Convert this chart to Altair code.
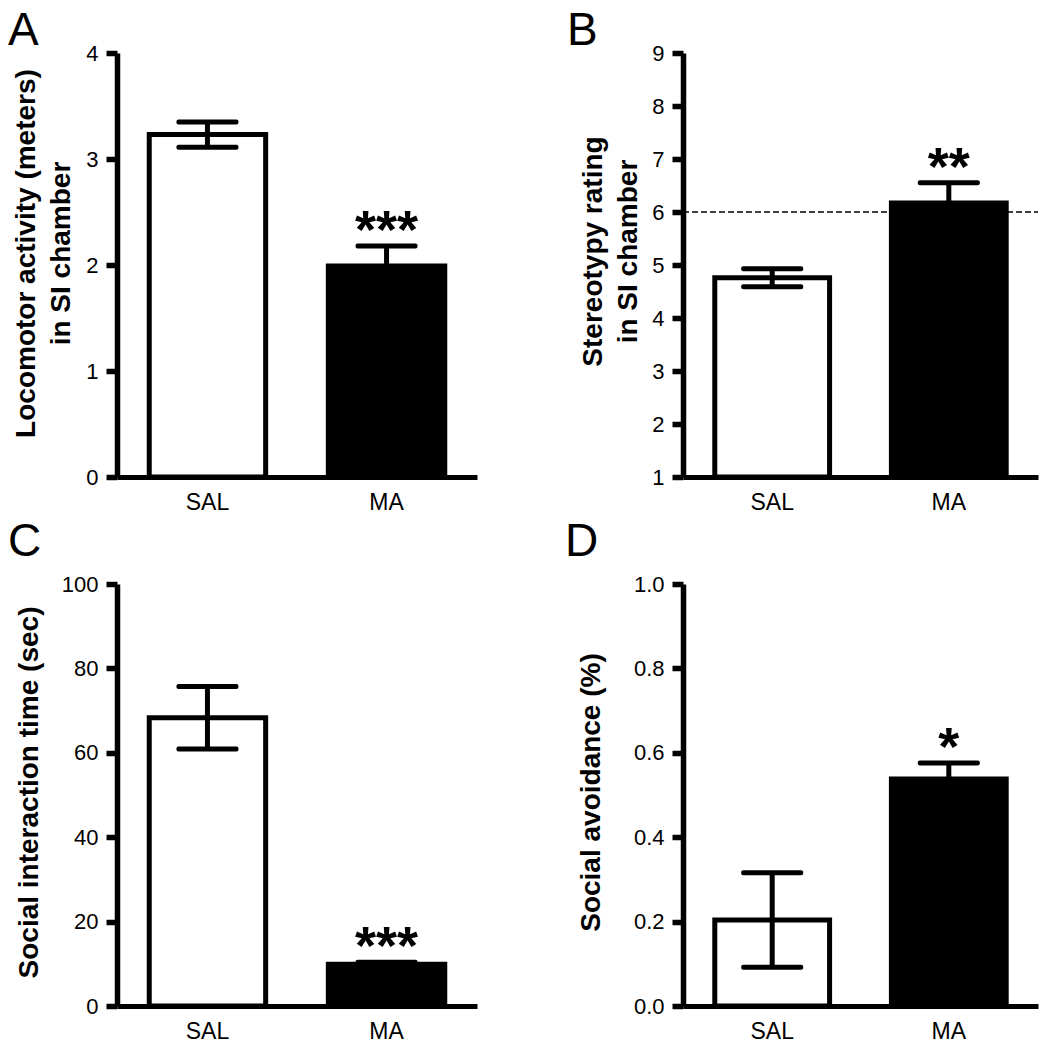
import altair as alt
import pandas as pd

groups = ["SAL", "MA"]
fills = ["white", "black"]

a_mean = [3.23, 1.99]
a_sem = [0.12, 0.19]
a_star = ["", "***"]

b_mean = [4.76, 6.17]
b_sem = [0.17, 0.38]
b_star = ["", "**"]
b_ref = [6.0]

c_mean = [68.3, 9.9]
c_sem = [7.4, 0.45]
c_star = ["", "***"]

d_mean = [0.204, 0.538]
d_sem = [0.112, 0.038]
d_star = ["", "*"]

FONT = "Liberation Sans"
LW = 5
YW = 5.5


def panel(letter, mean, sem, star, title, domain, ticks, fmt, width, height,
          base, title_x, title_y, letter_x, letter_y, letter_baseline, ref=None):
    df = pd.DataFrame({"group": groups, "mean": mean, "sem": sem, "star": star})
    df["lo"] = df["mean"] - df["sem"]
    df["hi"] = df["mean"] + df["sem"]

    xaxis = alt.Axis(title=None, labelAngle=0, ticks=False, tickSize=0,
                     labelPadding=14, labelFontSize=23, labelFont=FONT,
                     labelColor="black", domainWidth=LW, domainColor="black",
                     grid=False)
    xscale = alt.Scale(paddingInner=0.35, paddingOuter=0.18)
    xenc = alt.X("group:N", sort=groups, scale=xscale, axis=xaxis)
    yscale = alt.Scale(domain=domain, nice=False, zero=False)
    yaxis = alt.Axis(values=ticks, format=fmt, title=title,
                     titleX=title_x, titleY=title_y, titleAngle=270,
                     titleAlign="center", titleBaseline="alphabetic",
                     titleFontSize=28, titleFont=FONT, titleFontWeight="bold",
                     titleColor="black", titleLineHeight=35,
                     domainWidth=YW, domainColor="black", tickWidth=YW,
                     tickColor="black", tickSize=11, labelFontSize=22,
                     labelFont=FONT, labelColor="black", labelPadding=8,
                     grid=False)

    def Y(field):
        return alt.Y(field, scale=yscale, axis=yaxis, title=title)

    base_chart = alt.Chart(df)
    layers = []
    if ref is not None:
        refdf = pd.DataFrame({"ref": ref})
        layers.append(
            alt.Chart(refdf).mark_rule(strokeDash=[6, 3], strokeWidth=1.5,
                                       color="black").encode(
                y=Y("ref:Q"),
                x=alt.value(0), x2=alt.value(width))
        )
    bars = base_chart.mark_bar(stroke="black", strokeWidth=LW).encode(
        x=xenc,
        y=Y("mean:Q"),
        y2=alt.datum(base),
        fill=alt.Fill("group:N", scale=alt.Scale(domain=groups, range=fills),
                      legend=None),
    )
    whisk = base_chart.mark_rule(strokeWidth=LW, color="black").encode(
        x=xenc, y=Y("lo:Q"), y2="hi:Q")
    cap_hi = base_chart.mark_tick(size=62, thickness=LW, color="black",
                                  cornerRadius=2, opacity=1).encode(
        x=xenc, y=Y("hi:Q"))
    cap_lo = base_chart.mark_tick(size=62, thickness=LW, color="black",
                                  cornerRadius=2, opacity=1).encode(
        x=xenc, y=Y("lo:Q"))
    stars = base_chart.mark_text(fontSize=54, fontWeight="bold", font=FONT,
                                 baseline="alphabetic", dy=2,
                                 color="black").encode(
        x=xenc, y=Y("hi:Q"), text="star:N")
    ldf = pd.DataFrame({"label": [letter]})
    lab = alt.Chart(ldf).mark_text(fontSize=46, font=FONT, align="left",
                                   baseline=letter_baseline,
                                   color="black").encode(
        x=alt.value(letter_x), y=alt.value(letter_y), text="label:N")
    layers += [bars, whisk, cap_hi, cap_lo, stars, lab]
    return alt.layer(*layers).properties(width=width, height=height)


pA = panel("A", a_mean, a_sem, a_star,
           ["Locomotor activity (meters)", "in SI chamber"],
           [0, 4], [0, 1, 2, 3, 4], "d", 360, 424, 0,
           -83, 200, -109, -44, "top")
pB = panel("B", b_mean, b_sem, b_star,
           ["Stereotypy rating", "in SI chamber"],
           [1, 9], [1, 2, 3, 4, 5, 6, 7, 8, 9], "d", 355, 424, 1,
           -82, 198, -116, -44, "top", ref=b_ref)
pC = panel("C", c_mean, c_sem, c_star,
           "Social interaction time (sec)",
           [0, 100], [0, 20, 40, 60, 80, 100], "d", 360, 422, 0,
           -80, 208, -109, -28, "alphabetic")
pD = panel("D", d_mean, d_sem, d_star,
           "Social avoidance (%)",
           [0, 1], [0, 0.2, 0.4, 0.6, 0.8, 1.0], ".1f", 355, 422, 0,
           -84, 208, -118, -28, "alphabetic")

chart = alt.concat(pA, pB, pC, pD, columns=2,
                   spacing={"row": 107, "column": 206},
                   bounds="flush").properties(
    padding=0
).configure_view(
    stroke=None
).configure_axis(
    domainColor="black", tickColor="black",
    labelColor="black", labelFont=FONT, grid=False
).configure_axisY(
    tickSize=11, labelFontSize=22, labelPadding=8, domainWidth=YW, tickWidth=YW
).configure_axisX(
    ticks=False, labelFontSize=23, labelPadding=14, domainWidth=LW
)

chart.save("out.html", embed_options={"renderer": "svg", "actions": False})
